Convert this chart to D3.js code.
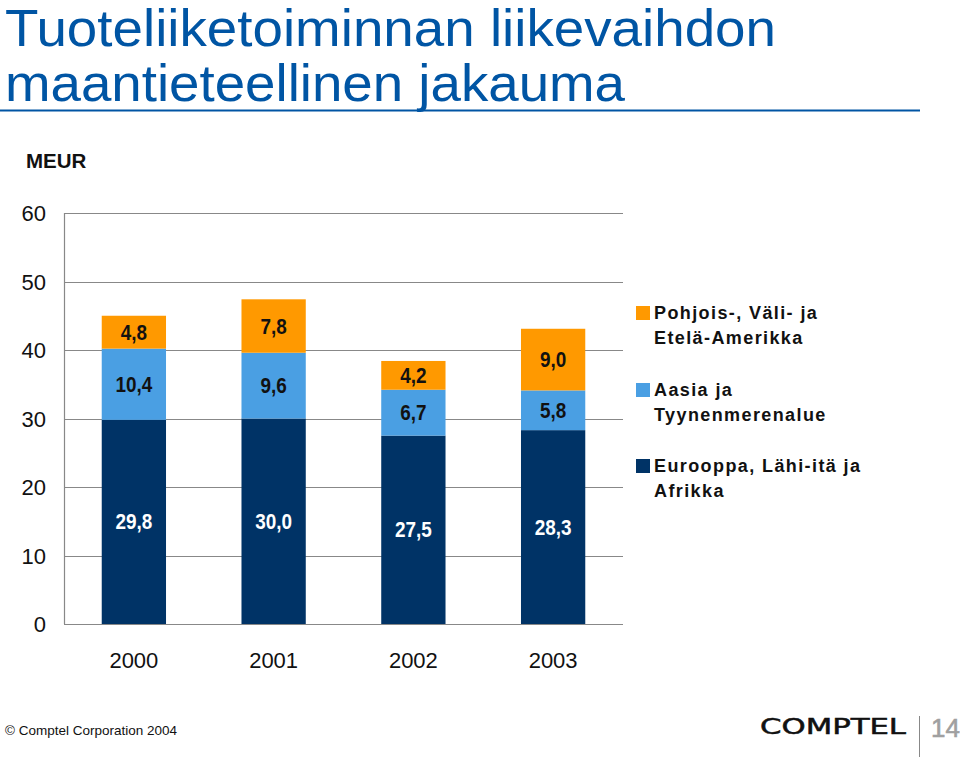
<!DOCTYPE html>
<html><head><meta charset="utf-8">
<script src="https://cdn.jsdelivr.net/npm/d3@7"></script>
<style>body{margin:0;background:#fff}svg{display:block}</style>
</head><body>
<svg id="c" width="960" height="757"></svg>
<script>
const years = ["2000","2001","2002","2003"];
const europe = [29.8, 30.0, 27.5, 28.3];
const asia = [10.4, 9.6, 6.7, 5.8];
const americas = [4.8, 7.8, 4.2, 9.0];
const seriesNames = ["Eurooppa, Lähi-itä ja|Afrikka", "Aasia ja|Tyynenmerenalue", "Pohjois-, Väli- ja|Etelä-Amerikka"];
const yTicks = [0,10,20,30,40,50,60];
const colors = ["#003366", "#4A9FE3", "#FF9900"];
const labelColors = ["#fff", "#111", "#111"];

const svg = d3.select("#c");
const F = "'Liberation Sans', Arial, sans-serif";

// title
const titleLines = ["Tuoteliiketoiminnan liikevaihdon", "maantieteellinen jakauma"];
const titleW = [771, 620];
titleLines.forEach((t,i)=>{
  svg.append("text").attr("x",5).attr("y",46+i*55).attr("font-family",F)
    .attr("font-size",52).attr("fill","#0055A4")
    .attr("textLength",titleW[i]).attr("lengthAdjust","spacingAndGlyphs").text(t);
});
svg.append("line").attr("x1",0).attr("x2",920).attr("y1",110.5).attr("y2",110.5)
  .attr("stroke","#0055A4").attr("stroke-width",2);

svg.append("text").attr("x",26).attr("y",168).attr("font-family",F).attr("font-weight","bold")
  .attr("font-size",20.5).attr("fill","#111").text("MEUR");

const x = d3.scaleBand().domain(years).range([64,623]).paddingInner(0.54).paddingOuter(0.27);
const y = d3.scaleLinear().domain([0,60]).range([624,213]);

// gridlines
svg.append("g").selectAll("line").data(yTicks).join("line")
  .attr("x1",64).attr("x2",623).attr("y1",d=>Math.round(y(d))+0.5).attr("y2",d=>Math.round(y(d))+0.5)
  .attr("stroke","#888").attr("stroke-width",1.2);
svg.append("line").attr("x1",64.5).attr("x2",64.5).attr("y1",y(60)).attr("y2",y(0))
  .attr("stroke","#888").attr("stroke-width",1.2);

// y tick labels
svg.append("g").selectAll("text").data(yTicks).join("text")
  .attr("x",46).attr("y",d=>y(d)+8).attr("text-anchor","end")
  .attr("font-family",F).attr("font-size",22).attr("fill","#111").text(d=>d);

// stacked
const rows = years.map((yr,i)=>({year:yr, s0:europe[i], s1:asia[i], s2:americas[i]}));
const stack = d3.stack().keys(["s0","s1","s2"])(rows);
const fmt = v => d3.format(".1f")(v).replace(".", ",");
stack.forEach((layer,k)=>{
  const g = svg.append("g");
  g.selectAll("rect").data(layer).join("rect")
    .attr("x",d=>x(d.data.year)).attr("width",x.bandwidth())
    .attr("y",d=>y(d[1])).attr("height",d=>y(d[0])-y(d[1]))
    .attr("fill",colors[k]);
  g.selectAll("text").data(layer).join("text")
    .attr("x",d=>x(d.data.year)+x.bandwidth()/2)
    .attr("y",d=>(y(d[0])+y(d[1]))/2+7.5)
    .attr("text-anchor","middle").attr("font-family",F).attr("font-weight","bold")
    .attr("font-size",21.5).attr("fill",labelColors[k])
    .attr("transform",d=>{const cx=x(d.data.year)+x.bandwidth()/2;return `translate(${cx},0) scale(0.88,1) translate(${-cx},0)`;})
    .text(d=>fmt(d[1]-d[0]));
});

// x labels
svg.append("g").selectAll("text").data(years).join("text")
  .attr("x",d=>x(d)+x.bandwidth()/2).attr("y",668).attr("text-anchor","middle")
  .attr("font-family",F).attr("font-size",22).attr("fill","#111").text(d=>d);

// legend
const legY = [306, 383, 459];
const legOrder = [2,1,0];
legOrder.forEach((k,i)=>{
  svg.append("rect").attr("x",636).attr("y",legY[i]).attr("width",14).attr("height",14).attr("fill",colors[k]);
  seriesNames[k].split("|").forEach((t,j)=>{
    svg.append("text").attr("x",654).attr("y",legY[i]+13+j*25)
      .attr("font-family",F).attr("font-weight","bold").attr("font-size",18)
      .attr("letter-spacing",1.4).attr("fill","#111").text(t);
  });
});

// footer
svg.append("text").attr("x",5).attr("y",735).attr("font-family",F).attr("font-size",13.5)
  .attr("fill","#111").text("© Comptel Corporation 2004");
svg.append("text").attr("x",760).attr("y",734).attr("font-family","'DejaVu Sans', sans-serif")
  .attr("font-size",21).attr("fill","#111").attr("textLength",146).attr("lengthAdjust","spacingAndGlyphs")
  .attr("stroke","#111").attr("stroke-width",0.5).text("COMPTEL");
svg.append("line").attr("x1",919.5).attr("x2",919.5).attr("y1",716).attr("y2",757).attr("stroke","#888").attr("stroke-width",1);
svg.append("text").attr("x",931).attr("y",737).attr("font-family",F)
  .attr("font-size",26).attr("fill","#a0a0a0").attr("stroke","#a0a0a0").attr("stroke-width",0.6).text("14");
</script>
</body></html>
